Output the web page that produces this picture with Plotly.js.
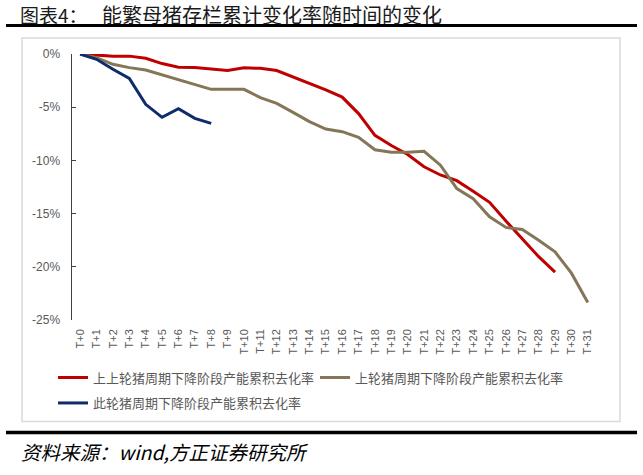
<!DOCTYPE html>
<html>
<head>
<meta charset="utf-8">
<script src="https://cdn.plot.ly/plotly-3.0.1.min.js"></script>
<style>
  html, body { margin: 0; padding: 0; background: #ffffff; }
  #chart { width: 643px; height: 475px; }
</style>
</head>
<body>
<div id="chart"></div>
<script>
// ---- data (values in %) ----
var periods = ["T+0","T+1","T+2","T+3","T+4","T+5","T+6","T+7","T+8","T+9","T+10",
  "T+11","T+12","T+13","T+14","T+15","T+16","T+17","T+18","T+19","T+20",
  "T+21","T+22","T+23","T+24","T+25","T+26","T+27","T+28","T+29","T+30","T+31"];

var seriesNames = ["上上轮猪周期下降阶段产能累积去化率",
                   "上轮猪周期下降阶段产能累积去化率",
                   "此轮猪周期下降阶段产能累积去化率"];

var cycleBeforeLast = [0, -0.1, -0.2, -0.2, -0.4, -0.9, -1.25, -1.28, -1.38, -1.55,
  -1.3, -1.35, -1.55, -2.15, -2.8, -3.38, -4.05, -5.6, -7.65, -8.6,
  -9.45, -10.6, -11.37, -11.9, -12.9, -13.94, -15.7, -17.4, -19.05, -20.5];

var lastCycle = [0, -0.35, -0.97, -1.28, -1.5, -1.97, -2.44, -2.85, -3.32, -3.32,
  -3.32, -4.1, -4.64, -5.48, -6.36, -7.05, -7.3, -7.83, -9.0, -9.24,
  -9.24, -9.15, -10.45, -12.65, -13.6, -15.3, -16.3, -16.5, -17.5, -18.6,
  -20.6, -23.35];

var currentCycle = [0, -0.5, -1.44, -2.29, -4.73, -5.95, -5.14, -6.05, -6.52];

var yTickVals = [0, -5, -10, -15, -20, -25];
var yTickText = ["0%", "-5%", "-10%", "-15%", "-20%", "-25%"];

var titleLabel = "图表4：";
var titleText = "能繁母猪存栏累计变化率随时间的变化";
var sourceText = "资料来源：wind,方正证券研究所";

// ---- styling ----
var W = 643, H = 475;
function px(x) { return x / W; }
function py(y) { return 1 - y / H; }

var colors = ["#C00000", "#857657", "#0E2B6C"];
var tickFont = { family: "Liberation Sans, Arial, sans-serif", size: 12, color: "#595959" };
var cjk = "Noto Sans CJK SC, sans-serif";

var traces = [
  { x: periods.slice(0, cycleBeforeLast.length), y: cycleBeforeLast, name: seriesNames[0],
    type: "scatter", mode: "lines", line: { color: colors[0], width: 3 }, legend: "legend" },
  { x: periods.slice(0, lastCycle.length), y: lastCycle, name: seriesNames[1],
    type: "scatter", mode: "lines", line: { color: colors[1], width: 3 }, legend: "legend" },
  { x: periods.slice(0, currentCycle.length), y: currentCycle, name: seriesNames[2],
    type: "scatter", mode: "lines", line: { color: colors[2], width: 3 }, legend: "legend2" }
];

var layout = {
  width: W, height: H,
  margin: { l: 0, r: 0, t: 0, b: 0 },
  paper_bgcolor: "#ffffff",
  plot_bgcolor: "rgba(0,0,0,0)",
  font: { family: cjk, color: "#595959" },
  showlegend: true,
  xaxis: {
    type: "category",
    categoryorder: "array",
    categoryarray: periods,
    range: [-0.5, periods.length - 0.5],
    domain: [px(72), px(596)],
    anchor: "y",
    side: "bottom",
    showline: false, showgrid: false, zeroline: false,
    ticks: "",
    tickangle: -90,
    ticklabelstandoff: 6,
    tickfont: { family: "Liberation Sans, Arial, sans-serif", size: 11, color: "#595959" }
  },
  xaxis2: {
    overlaying: "x",
    anchor: "y",
    side: "top",
    type: "linear",
    range: [-0.5, periods.length - 0.5],
    tick0: -0.5, dtick: 1,
    showline: true, linecolor: "#404040", linewidth: 1.5,
    ticks: "inside", ticklen: 4, tickwidth: 1.3, tickcolor: "#404040",
    showticklabels: false, showgrid: false, zeroline: false
  },
  yaxis: {
    range: [-25, 0],
    domain: [py(320), py(54)],
    anchor: "x",
    tickmode: "array",
    tickvals: yTickVals,
    ticktext: yTickText,
    showline: true, linecolor: "#404040", linewidth: 1.5,
    ticks: "inside", ticklen: 4, tickwidth: 1.3, tickcolor: "#404040",
    ticklabelstandoff: 8,
    showgrid: false, zeroline: false,
    tickfont: tickFont
  },
  legend: {
    orientation: "h",
    x: px(53), xanchor: "left",
    y: py(377.5), yanchor: "middle",
    bgcolor: "rgba(0,0,0,0)",
    borderwidth: 0,
    entrywidth: 217,
    itemwidth: 30,
    font: { family: cjk, size: 13, color: "#595959" }
  },
  legend2: {
    orientation: "h",
    x: px(53), xanchor: "left",
    y: py(403), yanchor: "middle",
    bgcolor: "rgba(0,0,0,0)",
    borderwidth: 0,
    itemwidth: 30,
    font: { family: cjk, size: 13, color: "#595959" }
  },
  shapes: [
    { type: "line", xref: "paper", yref: "paper", x0: px(6), x1: px(637), y0: py(25.5), y1: py(25.5),
      line: { color: "#000000", width: 3 } },
    { type: "rect", xref: "paper", yref: "paper", x0: px(22), x1: px(620), y0: py(421.5), y1: py(38),
      line: { color: "#d9d9d9", width: 1.5 }, fillcolor: "rgba(0,0,0,0)", layer: "below" },
    { type: "line", xref: "paper", yref: "paper", x0: px(6), x1: px(637), y0: py(432.5), y1: py(432.5),
      line: { color: "#000000", width: 3.5 } }
  ],
  annotations: [
    { xref: "paper", yref: "paper", x: px(19), y: py(14.5), xanchor: "left", yanchor: "middle",
      text: titleLabel, showarrow: false, borderpad: 0,
      font: { family: cjk, size: 19, color: "#1a1a1a" } },
    { xref: "paper", yref: "paper", x: px(101), y: py(14.5), xanchor: "left", yanchor: "middle",
      text: titleText, showarrow: false, borderpad: 0,
      font: { family: cjk, size: 20, color: "#1a1a1a" } },
    { xref: "paper", yref: "paper", x: px(19), y: py(451), xanchor: "left", yanchor: "middle",
      text: "<i>" + sourceText + "</i>", showarrow: false,
      font: { family: cjk, size: 19.5, color: "#000000" } }
  ]
};

Plotly.newPlot("chart", traces, layout, { displayModeBar: false, staticPlot: true });
</script>
</body>
</html>
